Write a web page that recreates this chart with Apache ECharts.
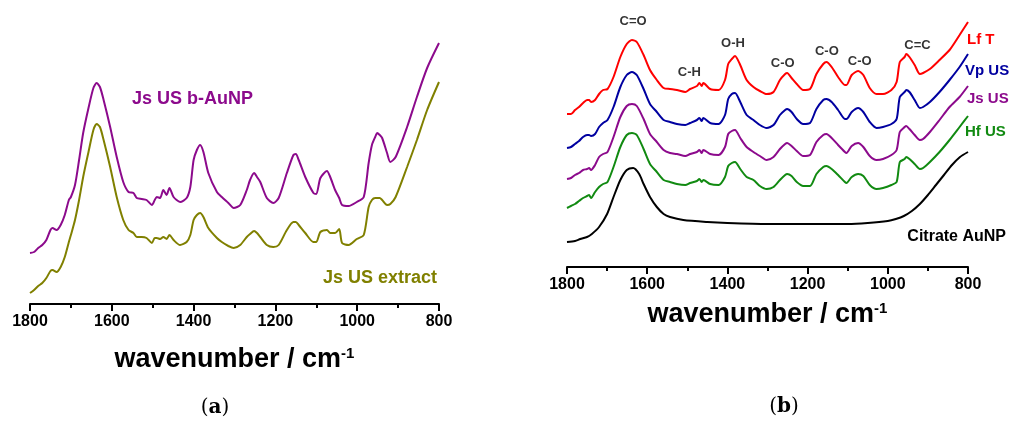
<!DOCTYPE html>
<html>
<head>
<meta charset="utf-8">
<script src="https://cdn.jsdelivr.net/npm/echarts@6/dist/echarts.min.js"></script>
<style>
  html, body { margin: 0; padding: 0; background: #fff; }
  #chart { width: 1011px; height: 421px; }
</style>
</head>
<body>
<div id="chart"></div>
<script>
// FTIR spectra (absorbance, a.u., stacked with offsets) vs wavenumber (cm-1)

// ---- panel (a): Js US b-AuNP vs Js US extract ----
const wnA = [1800,1790,1780,1770,1760,1750,1745,1735,1725,1715,1705,1700,1690,1680,1670,1657,1645,1637,1629,1620,
  1604,1588,1572,1559,1547,1539,1527,1515,1502,1495,1490,1482,1474,1466,1459,1449,1433,1417,1408,1400,
  1392,1384,1376,1364,1343,1331,1315,1302,1286,1270,1262,1252,1245,1237,1221,1205,1192,1172,1156,1150,
  1143,1127,1107,1100,1090,1074,1066,1054,1044,1037,1021,1001,984,972,964,956,951,945,939,927,
  919,906,878,854,829,800];
const jsUsAuNP = [51,52,56,59,64,74,76,74,79,89,104,107,119,144,171,196,216,221,217,204,
  177,147,122,112,111,106,105,104,99,104,107,106,114,109,116,107,102,106,117,144,
  154,159,152,131,112,107,101,96,99,114,124,131,127,122,106,101,106,131,149,150,
  144,127,111,110,126,133,127,114,106,99,98,102,107,141,159,167,171,169,166,151,
  142,147,177,207,236,261];
const jsUsExtract = [11,14,18,21,26,33,34,32,37,47,62,69,84,104,127,152,174,180,177,164,
  137,107,84,74,71,67,67,66,61,66,66,65,67,65,69,64,59,62,69,84,
  89,91,87,76,66,62,58,56,59,67,70,73,71,67,59,57,59,74,82,82,
  79,71,62,62,72,74,71,71,75,61,59,65,69,97,104,106,106,106,104,99,
  100,107,137,164,194,222];

// ---- panel (b): extracts-capped AuNP and citrate AuNP ----
const wnB = [1800,1790,1780,1770,1760,1750,1745,1740,1730,1720,1710,1699,1684,1667,1651,1638,1626,1609,1593,1576,
  1559,1543,1526,1505,1493,1476,1470,1464,1460,1443,1422,1406,1398,1389,1381,1368,1352,1335,1319,1302,
  1285,1269,1256,1251,1240,1227,1211,1194,1178,1161,1153,1140,1124,1107,1103,1090,1074,1061,1045,1028,
  1012,991,978,970,958,954,946,933,920,912,895,871,846,821,800];
const lfT = [153,153,157,160,164,167,167,165,167,173,177,178,190,210,223,227,225,212,197,187,
  179,178,177,175,178,181,184,181,184,178,177,187,203,208,211,202,187,180,176,173,
  175,187,193,194,189,183,177,178,193,203,205,200,190,182,182,192,196,192,179,173,
  173,177,185,205,210,213,210,202,193,194,198,207,217,232,245];
const vpUS = [119,120,123,126,130,132,132,131,133,140,144,147,160,180,192,195,192,178,163,155,
  147,145,143,142,144,147,149,146,149,144,143,152,168,173,174,165,152,147,142,139,
  142,152,157,158,155,148,143,144,158,167,168,165,157,148,148,155,159,155,145,139,
  140,143,148,170,175,177,175,167,159,160,165,175,187,200,213];
const jsUS = [88,89,92,94,97,98,99,97,102,110,113,115,130,150,161,163,161,148,133,125,
  117,114,113,111,113,115,117,114,117,113,112,120,133,136,137,129,120,115,111,107,
  110,118,123,124,121,116,111,112,125,132,133,129,122,115,114,121,124,120,111,107,
  108,112,117,135,140,141,138,132,127,128,135,147,160,170,181];
const hfUS = [59,61,63,66,69,71,72,69,75,80,83,85,100,120,132,134,132,118,103,95,
  87,85,83,82,84,86,88,85,87,83,82,90,101,104,105,98,90,87,81,78,
  80,87,92,93,91,85,81,81,93,100,101,98,92,85,84,90,93,91,82,78,
  79,82,85,105,108,110,108,103,98,99,105,115,127,140,151];
const wnCitrate = [1800,1780,1767,1750,1738,1720,1700,1684,1667,1651,1635,1620,1609,1593,1576,1559,1543,1510,1450,1400,
  1300,1200,1100,1050,1000,980,960,940,920,900,880,860,840,820,800];
const citrateAuNP = [25,26,28,30,33,40,53,70,87,97,99,93,83,70,60,53,50,47,45,44,
  43,43,43,44,46,48,51,56,63,72,82,92,102,110,115];

// band assignments: [wavenumber, height]
const bandNames = ['C=O','C-H','O-H','C-O','C-O','C-O','C=C'];
const bandWn = [1635,1495,1386,1262,1152,1070,926];
const bandY = [246,195,224,204,216,206,222];

const tickStep = 200;
const FONT = '"Liberation Sans", Arial, Helvetica, sans-serif';

const C = {
  purpleA: '#8c0a8c', olive: '#808000',
  red: '#ff0000', blue: '#0000a0', purple: '#8c0a8c', green: '#118a11', black: '#000000'
};

const pairs = (xs, ys) => xs.map((x, i) => [x, ys[i]]);

function xAxisFor(gridIndex, nameGap) {
  return {
    gridIndex, type: 'value', inverse: true, min: 800, max: 1800, interval: tickStep,
    axisLine: { show: true, onZero: false, lineStyle: { color: '#000', width: 2 } },
    axisTick: { show: true, length: 7, lineStyle: { color: '#000', width: 2 } },
    minorTick: { show: true, splitNumber: 2, length: 4, lineStyle: { color: '#000', width: 2 } },
    splitLine: { show: false }, minorSplitLine: { show: false },
    axisLabel: { fontSize: 16, fontWeight: 'bold', color: '#000', margin: 10, fontFamily: FONT,
      showMinLabel: true, showMaxLabel: true, formatter: v => String(v) },
    name: '{t|wavenumber / cm}{s|-1}',
    nameLocation: 'middle', nameGap,
    nameTextStyle: {
      color: '#000',
      rich: {
        t: { fontSize: 27, fontWeight: 'bold', fontFamily: FONT, color: '#000' },
        s: { fontSize: 15, fontWeight: 'bold', fontFamily: FONT, color: '#000', verticalAlign: 'top' }
      }
    }
  };
}

function spectrum(name, xIdx, xs, ys, color) {
  return {
    name, type: 'line', xAxisIndex: xIdx, yAxisIndex: xIdx,
    data: pairs(xs, ys), showSymbol: false, smooth: 0.25,
    lineStyle: { color, width: 2 }, itemStyle: { color }, z: 3
  };
}

function label(text, x, y, color, size, align) {
  return {
    type: 'text', x, y, silent: true,
    style: { text, fill: color, font: 'bold ' + size + 'px ' + FONT, align: align || 'left', verticalAlign: 'middle' }
  };
}

function panelTag(letter, x, y) {
  return {
    type: 'text', x, y, silent: true,
    style: {
      text: '{p|(}{l|' + letter + '}{p|)}', align: 'center', verticalAlign: 'middle',
      rich: {
        p: { fontSize: 20, fontFamily: '"DejaVu Serif", serif', fill: '#000' },
        l: { fontSize: 20, fontWeight: 'bold', fontFamily: '"DejaVu Serif", serif', fill: '#000' }
      }
    }
  };
}

const option = {
  animation: false,
  backgroundColor: '#fff',
  grid: [
    { left: 30, top: 30, width: 409, height: 274 },
    { left: 567, top: 17, width: 401, height: 250 }
  ],
  xAxis: [xAxisFor(0, 42), xAxisFor(1, 34)],
  yAxis: [
    { gridIndex: 0, type: 'value', min: 0, max: 274, show: false },
    { gridIndex: 1, type: 'value', min: 0, max: 250, show: false }
  ],
  series: [
    spectrum('Js US extract', 0, wnA, jsUsExtract, C.olive),
    spectrum('Js US b-AuNP', 0, wnA, jsUsAuNP, C.purpleA),
    spectrum('Citrate AuNP', 1, wnCitrate, citrateAuNP, C.black),
    spectrum('Hf US', 1, wnB, hfUS, C.green),
    spectrum('Js US', 1, wnB, jsUS, C.purple),
    spectrum('Vp US', 1, wnB, vpUS, C.blue),
    spectrum('Lf T', 1, wnB, lfT, C.red),
    {
      name: 'bands', type: 'scatter', xAxisIndex: 1, yAxisIndex: 1,
      symbolSize: 1, itemStyle: { color: 'rgba(0,0,0,0)' }, silent: true,
      data: bandNames.map((n, i) => ({ name: n, value: [bandWn[i], bandY[i]] })),
      label: { show: true, position: 'inside', formatter: '{b}', color: '#000',
        textBorderWidth: 0, fontSize: 13, fontWeight: 'bold', fontFamily: FONT },
      z: 5
    }
  ],
  graphic: [
    label('Js US b-AuNP', 132, 99, C.purpleA, 18),
    label('Js US extract', 437, 278, C.olive, 18, 'right'),
    label('Lf T', 967, 40, C.red, 15),
    label('Vp US', 965, 71, C.blue, 15),
    label('Js US', 967, 99, C.purple, 15),
    label('Hf US', 965, 132, C.green, 15),
    label('Citrate AuNP', 1006, 237, C.black, 16, 'right'),
    panelTag('a', 215, 408),
    panelTag('b', 784, 407)
  ]
};

const chart = echarts.init(document.getElementById('chart'), null, { renderer: 'canvas' });
chart.setOption(option);
</script>
</body>
</html>
